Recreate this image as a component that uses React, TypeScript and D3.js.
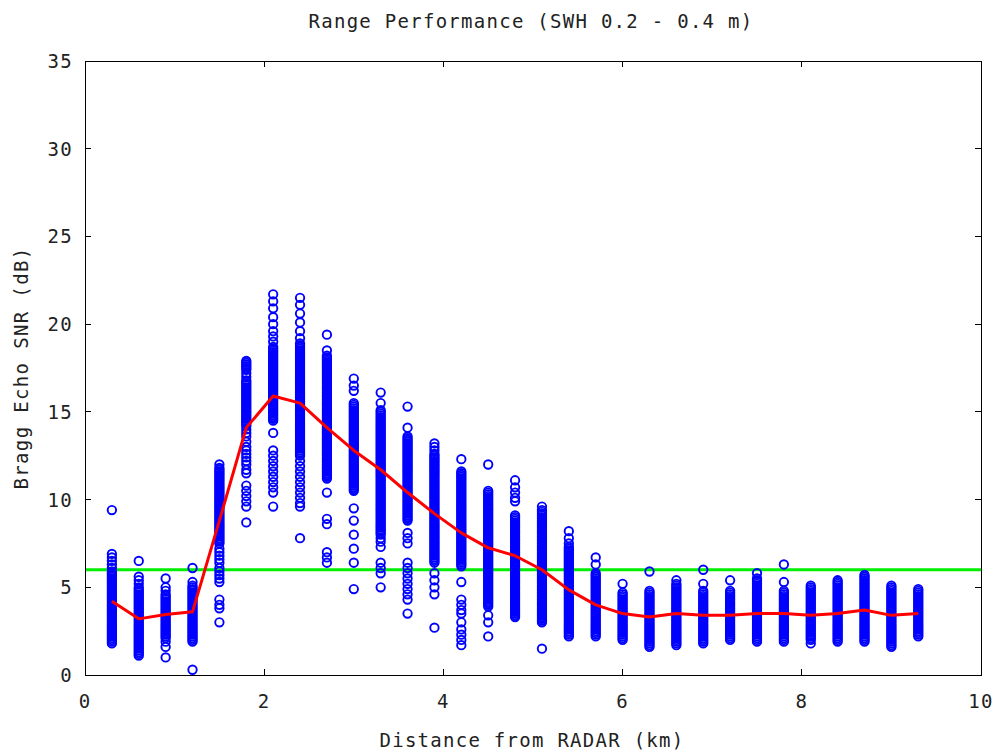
import React from 'react';
import * as d3 from 'd3';

// ---- data ----
const distances = [0.3, 0.6, 0.9, 1.2, 1.5, 1.8, 2.1, 2.4, 2.7, 3.0, 3.3, 3.6, 3.9, 4.2, 4.5, 4.8, 5.1, 5.4, 5.7, 6.0, 6.3, 6.6, 6.9, 7.2, 7.5, 7.8, 8.1, 8.4, 8.7, 9.0, 9.3];

const snr03 = [9.4, 6.9, 6.7, 6.5, 6.3, 6.1, 5.9, 5.8, 5.7, 5.6, 5.5, 5.4, 5.3, 5.2, 5.1, 5.0, 4.9, 4.8, 4.7, 4.6, 4.5, 4.4, 4.3, 4.2, 4.1, 4.0, 3.9, 3.8, 3.7, 3.6, 3.5, 3.4, 3.3, 3.2, 3.1, 3.0, 2.9, 2.8, 2.7, 2.6, 2.5, 2.4, 2.3, 2.2, 2.1, 2.0, 1.9, 1.8];
const snr06 = [6.5, 5.6, 5.4, 5.2, 5.0, 4.9, 4.8, 4.7, 4.6, 4.5, 4.4, 4.3, 4.2, 4.1, 4.0, 3.9, 3.8, 3.7, 3.6, 3.5, 3.4, 3.3, 3.2, 3.1, 3.0, 2.9, 2.8, 2.7, 2.6, 2.5, 2.4, 2.3, 2.2, 2.1, 2.0, 1.9, 1.8, 1.7, 1.6, 1.5, 1.4, 1.3, 1.2, 1.1];
const snr09 = [5.5, 5.0, 4.8, 4.6, 4.5, 4.4, 4.3, 4.2, 4.1, 4.0, 3.9, 3.8, 3.7, 3.6, 3.5, 3.4, 3.3, 3.2, 3.1, 3.0, 2.9, 2.8, 2.7, 2.6, 2.5, 2.4, 2.3, 2.2, 2.1, 1.9, 1.6, 1.0];
const snr12 = [6.1, 5.3, 5.1, 5.0, 4.9, 4.8, 4.7, 4.6, 4.5, 4.4, 4.3, 4.2, 4.1, 4.0, 3.9, 3.8, 3.7, 3.6, 3.5, 3.4, 3.3, 3.2, 3.1, 3.0, 2.9, 2.8, 2.7, 2.6, 2.5, 2.4, 2.3, 2.2, 2.1, 2.0, 1.9, 0.3];
const snr15 = [12.0, 11.8, 11.7, 11.6, 11.5, 11.4, 11.3, 11.2, 11.1, 11.0, 10.9, 10.8, 10.7, 10.6, 10.5, 10.4, 10.3, 10.2, 10.1, 10.0, 9.9, 9.8, 9.7, 9.6, 9.5, 9.4, 9.3, 9.2, 9.1, 9.0, 8.9, 8.8, 8.7, 8.6, 8.5, 8.4, 8.3, 8.2, 8.1, 8.0, 7.9, 7.8, 7.7, 7.6, 7.5, 7.2, 7.0, 6.8, 6.6, 6.4, 6.1, 5.9, 5.7, 5.5, 5.3, 4.3, 4.0, 3.8, 3.0];
const snr18 = [17.9, 17.8, 17.7, 17.6, 17.5, 17.4, 17.2, 17.0, 16.8, 16.7, 16.6, 16.5, 16.4, 16.3, 16.2, 16.1, 16.0, 15.9, 15.8, 15.7, 15.6, 15.5, 15.4, 15.3, 15.2, 15.1, 15.0, 14.9, 14.8, 14.7, 14.6, 14.5, 14.4, 14.3, 14.2, 14.0, 13.8, 13.6, 13.3, 13.0, 12.8, 12.6, 12.4, 12.2, 12.0, 11.7, 11.5, 10.8, 10.5, 10.2, 9.9, 9.6, 8.7];
const snr21 = [21.7, 21.3, 20.9, 20.4, 20.0, 19.6, 19.3, 19.0, 18.7, 18.6, 18.5, 18.4, 18.3, 18.2, 18.1, 18.0, 17.9, 17.8, 17.7, 17.6, 17.5, 17.4, 17.3, 17.2, 17.1, 17.0, 16.9, 16.8, 16.7, 16.6, 16.5, 16.4, 16.3, 16.2, 16.1, 16.0, 15.9, 15.8, 15.7, 15.6, 15.5, 15.4, 15.3, 15.2, 15.1, 15.0, 14.9, 14.8, 14.7, 14.6, 14.5, 13.8, 12.8, 12.5, 12.2, 11.9, 11.6, 11.3, 11.0, 10.7, 10.4, 9.6];
const snr24 = [21.5, 21.1, 20.6, 20.1, 19.6, 19.2, 18.9, 18.8, 18.7, 18.6, 18.5, 18.4, 18.3, 18.2, 18.1, 18.0, 17.9, 17.8, 17.7, 17.6, 17.5, 17.4, 17.3, 17.2, 17.1, 17.0, 16.9, 16.8, 16.7, 16.6, 16.5, 16.4, 16.3, 16.2, 16.1, 16.0, 15.9, 15.8, 15.7, 15.6, 15.5, 15.4, 15.3, 15.2, 15.1, 15.0, 14.9, 14.8, 14.7, 14.6, 14.5, 14.4, 14.3, 14.2, 14.1, 14.0, 13.9, 13.8, 13.7, 13.6, 13.5, 13.4, 13.3, 13.2, 13.1, 13.0, 12.9, 12.8, 12.7, 12.6, 12.5, 12.2, 11.9, 11.6, 11.3, 11.0, 10.7, 10.4, 10.1, 9.8, 9.6, 7.8];
const snr27 = [19.4, 18.5, 18.2, 18.1, 18.0, 17.9, 17.8, 17.7, 17.6, 17.5, 17.4, 17.3, 17.2, 17.1, 17.0, 16.9, 16.8, 16.7, 16.6, 16.5, 16.4, 16.3, 16.2, 16.1, 16.0, 15.9, 15.8, 15.7, 15.6, 15.5, 15.4, 15.3, 15.2, 15.1, 15.0, 14.9, 14.8, 14.7, 14.6, 14.5, 14.4, 14.3, 14.2, 14.1, 14.0, 13.9, 13.8, 13.7, 13.6, 13.5, 13.4, 13.3, 13.2, 13.1, 13.0, 12.9, 12.8, 12.7, 12.6, 12.5, 12.4, 12.3, 12.2, 12.1, 12.0, 11.9, 11.8, 11.7, 11.6, 11.5, 11.4, 11.3, 11.2, 10.4, 8.9, 8.6, 7.0, 6.7, 6.4];
const snr30 = [16.9, 16.5, 16.2, 15.5, 15.4, 15.3, 15.2, 15.1, 15.0, 14.9, 14.8, 14.7, 14.6, 14.5, 14.4, 14.3, 14.2, 14.1, 14.0, 13.9, 13.8, 13.7, 13.6, 13.5, 13.4, 13.3, 13.2, 13.1, 13.0, 12.9, 12.8, 12.7, 12.6, 12.5, 12.4, 12.3, 12.2, 12.1, 12.0, 11.9, 11.8, 11.7, 11.6, 11.5, 11.4, 11.3, 11.2, 11.1, 11.0, 10.9, 10.8, 10.7, 10.6, 10.5, 9.5, 8.8, 8.0, 7.2, 6.4, 4.9];
const snr33 = [16.1, 15.5, 15.1, 15.0, 14.9, 14.8, 14.7, 14.6, 14.5, 14.4, 14.3, 14.2, 14.1, 14.0, 13.9, 13.8, 13.7, 13.6, 13.5, 13.4, 13.3, 13.2, 13.1, 13.0, 12.9, 12.8, 12.7, 12.6, 12.5, 12.4, 12.3, 12.2, 12.1, 12.0, 11.9, 11.8, 11.7, 11.6, 11.5, 11.4, 11.3, 11.2, 11.1, 11.0, 10.9, 10.8, 10.7, 10.6, 10.5, 10.4, 10.3, 10.2, 10.1, 10.0, 9.9, 9.8, 9.7, 9.6, 9.5, 9.4, 9.3, 9.2, 9.1, 9.0, 8.9, 8.8, 8.7, 8.6, 8.5, 8.4, 8.3, 8.2, 8.1, 8.0, 7.8, 7.6, 7.3, 6.4, 6.1, 5.8, 5.0];
const snr36 = [15.3, 14.1, 13.6, 13.5, 13.4, 13.3, 13.2, 13.1, 13.0, 12.9, 12.8, 12.7, 12.6, 12.5, 12.4, 12.3, 12.2, 12.1, 12.0, 11.9, 11.8, 11.7, 11.6, 11.5, 11.4, 11.3, 11.2, 11.1, 11.0, 10.9, 10.8, 10.7, 10.6, 10.5, 10.4, 10.3, 10.2, 10.1, 10.0, 9.9, 9.8, 9.7, 9.6, 9.5, 9.4, 9.3, 9.2, 9.1, 9.0, 8.9, 8.8, 8.1, 7.8, 7.5, 6.4, 6.1, 5.8, 5.5, 5.2, 4.9, 4.6, 4.3, 3.5];
const snr39 = [13.2, 13.0, 12.8, 12.6, 12.5, 12.4, 12.3, 12.2, 12.1, 12.0, 11.9, 11.8, 11.7, 11.6, 11.5, 11.4, 11.3, 11.2, 11.1, 11.0, 10.9, 10.8, 10.7, 10.6, 10.5, 10.4, 10.3, 10.2, 10.1, 10.0, 9.9, 9.8, 9.7, 9.6, 9.5, 9.4, 9.3, 9.2, 9.1, 9.0, 8.9, 8.8, 8.7, 8.6, 8.5, 8.4, 8.3, 8.2, 8.1, 8.0, 7.9, 7.8, 7.7, 7.6, 7.5, 7.4, 7.3, 7.2, 7.1, 7.0, 6.9, 6.8, 6.7, 6.6, 6.5, 6.4, 5.8, 5.4, 5.0, 4.6, 2.7];
const snr42 = [12.3, 11.6, 11.5, 11.4, 11.3, 11.2, 11.1, 11.0, 10.9, 10.8, 10.7, 10.6, 10.5, 10.4, 10.3, 10.2, 10.1, 10.0, 9.9, 9.8, 9.7, 9.6, 9.5, 9.4, 9.3, 9.2, 9.1, 9.0, 8.9, 8.8, 8.7, 8.6, 8.5, 8.4, 8.3, 8.2, 8.1, 8.0, 7.9, 7.8, 7.7, 7.6, 7.5, 7.4, 7.3, 7.2, 7.1, 7.0, 6.9, 6.8, 6.7, 6.6, 6.5, 6.4, 6.3, 6.2, 5.3, 4.3, 4.0, 3.7, 3.5, 3.0, 2.6, 2.3, 2.0, 1.7];
const snr45 = [12.0, 10.5, 10.4, 10.3, 10.2, 10.1, 10.0, 9.9, 9.8, 9.7, 9.6, 9.5, 9.4, 9.3, 9.2, 9.1, 9.0, 8.9, 8.8, 8.7, 8.6, 8.5, 8.4, 8.3, 8.2, 8.1, 8.0, 7.9, 7.8, 7.7, 7.6, 7.5, 7.4, 7.3, 7.2, 7.1, 7.0, 6.9, 6.8, 6.7, 6.6, 6.5, 6.4, 6.3, 6.2, 6.1, 6.0, 5.9, 5.8, 5.7, 5.6, 5.5, 5.4, 5.3, 5.2, 5.1, 5.0, 4.9, 4.8, 4.7, 4.6, 4.5, 4.4, 4.3, 4.2, 4.1, 4.0, 3.9, 3.4, 3.0, 2.2];
const snr48 = [11.1, 10.7, 10.4, 10.1, 9.9, 9.1, 9.0, 8.9, 8.8, 8.7, 8.6, 8.5, 8.4, 8.3, 8.2, 8.1, 8.0, 7.9, 7.8, 7.7, 7.6, 7.5, 7.4, 7.3, 7.2, 7.1, 7.0, 6.9, 6.8, 6.7, 6.6, 6.5, 6.4, 6.3, 6.2, 6.1, 6.0, 5.9, 5.8, 5.7, 5.6, 5.5, 5.4, 5.3, 5.2, 5.1, 5.0, 4.9, 4.8, 4.7, 4.6, 4.5, 4.4, 4.3, 4.2, 4.1, 4.0, 3.9, 3.8, 3.7, 3.6, 3.5, 3.4, 3.3];
const snr51 = [9.6, 9.4, 9.3, 9.2, 9.1, 9.0, 8.9, 8.8, 8.7, 8.6, 8.5, 8.4, 8.3, 8.2, 8.1, 8.0, 7.9, 7.8, 7.7, 7.6, 7.5, 7.4, 7.3, 7.2, 7.1, 7.0, 6.9, 6.8, 6.7, 6.6, 6.5, 6.4, 6.3, 6.2, 6.1, 6.0, 5.9, 5.8, 5.7, 5.6, 5.5, 5.4, 5.3, 5.2, 5.1, 5.0, 4.9, 4.8, 4.7, 4.6, 4.5, 4.4, 4.3, 4.2, 4.1, 4.0, 3.9, 3.8, 3.7, 3.6, 3.5, 3.4, 3.3, 3.2, 3.1, 3.0, 1.5];
const snr54 = [8.2, 7.8, 7.5, 7.3, 7.2, 7.1, 7.0, 6.9, 6.8, 6.7, 6.6, 6.5, 6.4, 6.3, 6.2, 6.1, 6.0, 5.9, 5.8, 5.7, 5.6, 5.5, 5.4, 5.3, 5.2, 5.1, 5.0, 4.9, 4.8, 4.7, 4.6, 4.5, 4.4, 4.3, 4.2, 4.1, 4.0, 3.9, 3.8, 3.7, 3.6, 3.5, 3.4, 3.3, 3.2, 3.1, 3.0, 2.9, 2.8, 2.7, 2.6, 2.5, 2.4, 2.3, 2.2];
const snr57 = [6.7, 6.3, 5.8, 5.7, 5.6, 5.5, 5.4, 5.3, 5.2, 5.1, 5.0, 4.9, 4.8, 4.7, 4.6, 4.5, 4.4, 4.3, 4.2, 4.1, 4.0, 3.9, 3.8, 3.7, 3.6, 3.5, 3.4, 3.3, 3.2, 3.1, 3.0, 2.9, 2.8, 2.7, 2.6, 2.5, 2.4, 2.3, 2.2];
const snr60 = [5.2, 4.7, 4.6, 4.5, 4.4, 4.3, 4.2, 4.1, 4.0, 3.9, 3.8, 3.7, 3.6, 3.5, 3.4, 3.3, 3.2, 3.1, 3.0, 2.9, 2.8, 2.7, 2.6, 2.5, 2.4, 2.3, 2.2, 2.1, 2.0];
const snr63 = [5.9, 4.8, 4.7, 4.6, 4.5, 4.4, 4.3, 4.2, 4.1, 4.0, 3.9, 3.8, 3.7, 3.6, 3.5, 3.4, 3.3, 3.2, 3.1, 3.0, 2.9, 2.8, 2.7, 2.6, 2.5, 2.4, 2.3, 2.2, 2.1, 2.0, 1.9, 1.8, 1.7, 1.6];
const snr66 = [5.4, 5.2, 5.1, 5.0, 4.9, 4.8, 4.7, 4.6, 4.5, 4.4, 4.3, 4.2, 4.1, 4.0, 3.9, 3.8, 3.7, 3.6, 3.5, 3.4, 3.3, 3.2, 3.1, 3.0, 2.9, 2.8, 2.7, 2.6, 2.5, 2.4, 2.3, 2.2, 2.1, 2.0, 1.9, 1.8, 1.7];
const snr69 = [6.0, 5.2, 4.8, 4.7, 4.6, 4.5, 4.4, 4.3, 4.2, 4.1, 4.0, 3.9, 3.8, 3.7, 3.6, 3.5, 3.4, 3.3, 3.2, 3.1, 3.0, 2.9, 2.8, 2.7, 2.6, 2.5, 2.4, 2.3, 2.2, 2.1, 2.0, 1.9, 1.8];
const snr72 = [5.4, 4.8, 4.7, 4.6, 4.5, 4.4, 4.3, 4.2, 4.1, 4.0, 3.9, 3.8, 3.7, 3.6, 3.5, 3.4, 3.3, 3.2, 3.1, 3.0, 2.9, 2.8, 2.7, 2.6, 2.5, 2.4, 2.3, 2.2, 2.1, 2.0];
const snr75 = [5.8, 5.5, 5.4, 5.3, 5.2, 5.1, 5.0, 4.9, 4.8, 4.7, 4.6, 4.5, 4.4, 4.3, 4.2, 4.1, 4.0, 3.9, 3.8, 3.7, 3.6, 3.5, 3.4, 3.3, 3.2, 3.1, 3.0, 2.9, 2.8, 2.7, 2.6, 2.5, 2.4, 2.3, 2.2, 2.1, 2.0, 1.9];
const snr78 = [6.3, 5.3, 4.8, 4.7, 4.6, 4.5, 4.4, 4.3, 4.2, 4.1, 4.0, 3.9, 3.8, 3.7, 3.6, 3.5, 3.4, 3.3, 3.2, 3.1, 3.0, 2.9, 2.8, 2.7, 2.6, 2.5, 2.4, 2.3, 2.2, 2.1, 2.0, 1.9];
const snr81 = [5.1, 5.0, 4.9, 4.8, 4.7, 4.6, 4.5, 4.4, 4.3, 4.2, 4.1, 4.0, 3.9, 3.8, 3.7, 3.6, 3.5, 3.4, 3.3, 3.2, 3.1, 3.0, 2.9, 2.8, 2.7, 2.6, 2.5, 2.4, 2.3, 2.2, 2.1, 2.0, 1.8];
const snr84 = [5.4, 5.3, 5.2, 5.1, 5.0, 4.9, 4.8, 4.7, 4.6, 4.5, 4.4, 4.3, 4.2, 4.1, 4.0, 3.9, 3.8, 3.7, 3.6, 3.5, 3.4, 3.3, 3.2, 3.1, 3.0, 2.9, 2.8, 2.7, 2.6, 2.5, 2.4, 2.3, 2.2, 2.1, 2.0, 1.9];
const snr87 = [5.7, 5.6, 5.5, 5.4, 5.3, 5.2, 5.1, 5.0, 4.9, 4.8, 4.7, 4.6, 4.5, 4.4, 4.3, 4.2, 4.1, 4.0, 3.9, 3.8, 3.7, 3.6, 3.5, 3.4, 3.3, 3.2, 3.1, 3.0, 2.9, 2.8, 2.7, 2.6, 2.5, 2.4, 2.3, 2.2, 2.1, 2.0, 1.9];
const snr90 = [5.1, 5.0, 4.9, 4.8, 4.7, 4.6, 4.5, 4.4, 4.3, 4.2, 4.1, 4.0, 3.9, 3.8, 3.7, 3.6, 3.5, 3.4, 3.3, 3.2, 3.1, 3.0, 2.9, 2.8, 2.7, 2.6, 2.5, 2.4, 2.3, 2.2, 2.1, 2.0, 1.9, 1.8, 1.7, 1.6];
const snr93 = [4.9, 4.8, 4.7, 4.6, 4.5, 4.4, 4.3, 4.2, 4.1, 4.0, 3.9, 3.8, 3.7, 3.6, 3.5, 3.4, 3.3, 3.2, 3.1, 3.0, 2.9, 2.8, 2.7, 2.6, 2.5, 2.4, 2.3, 2.2];

const meanDistances = [0.3, 0.6, 0.9, 1.2, 1.5, 1.8, 2.1, 2.4, 2.7, 3.0, 3.3, 3.6, 3.9, 4.2, 4.5, 4.8, 5.1, 5.4, 5.7, 6.0, 6.3, 6.6, 6.9, 7.2, 7.5, 7.8, 8.1, 8.4, 8.7, 9.0, 9.3];
const meanSnr = [4.2, 3.2, 3.45, 3.6, 8.8, 14.1, 15.9, 15.5, 14.1, 12.8, 11.7, 10.4, 9.2, 8.1, 7.25, 6.8, 6.0, 4.85, 4.0, 3.5, 3.3, 3.5, 3.4, 3.4, 3.5, 3.5, 3.4, 3.5, 3.7, 3.4, 3.5];

const thresholdDb = 6;
const xTicks = [0, 2, 4, 6, 8, 10];
const yTicks = [0, 5, 10, 15, 20, 25, 30, 35];
const titleText = 'Range Performance (SWH 0.2 - 0.4 m)';
const xLabel = 'Distance from RADAR (km)';
const yLabel = 'Bragg Echo SNR (dB)';

const columns = [snr03, snr06, snr09, snr12, snr15, snr18, snr21, snr24, snr27, snr30, snr33, snr36, snr39, snr42, snr45, snr48, snr51, snr54, snr57, snr60, snr63, snr66, snr69, snr72, snr75, snr78, snr81, snr84, snr87, snr90, snr93];

const W = 995;
const H = 751;
const L = 85, R = 981, T = 61, B = 675;
const FONT = "'DejaVu Sans Mono', monospace";

export default function App() {
  const x = d3.scaleLinear().domain([0, 10]).range([L, R]);
  const y = d3.scaleLinear().domain([0, 35]).range([B, T]);

  const points = columns.flatMap((vals, i) => vals.map((v) => ({ d: distances[i], v })));
  const meanData = meanDistances.map((d, i) => ({ d, v: meanSnr[i] }));
  const meanLine = d3.line<{ d: number; v: number }>().x((p) => x(p.d)).y((p) => y(p.v))(meanData) || '';

  const tickLen = 6;
  const textStyle = { fontFamily: FONT, fontSize: 19, fill: '#222', letterSpacing: '1.3px' } as React.CSSProperties;

  return (
    <svg width={W} height={H} style={{ position: 'absolute', left: 0, top: 0, background: '#fff' }}>
      <rect x={0} y={0} width={W} height={H} fill="#fff" />
      {/* title */}
      <text x={531} y={28} textAnchor="middle" style={textStyle} textLength={445} lengthAdjust="spacing">{titleText}</text>

      {/* threshold */}
      <line x1={L} x2={R} y1={y(thresholdDb)} y2={y(thresholdDb)} stroke="#00ee00" strokeWidth={3} />

      {/* points */}
      <g fill="none" stroke="#0000ff" strokeWidth={1.9}>
        {points.map((p, i) => (
          <circle key={i} cx={x(p.d)} cy={y(p.v)} r={4.2} />
        ))}
      </g>

      {/* mean line */}
      <path d={meanLine} fill="none" stroke="#ff0000" strokeWidth={3} strokeLinejoin="round" />

      {/* border */}
      <rect x={L} y={T} width={R - L} height={B - T} fill="none" stroke="#000" strokeWidth={1} shapeRendering="crispEdges" />

      {/* ticks */}
      <g stroke="#000" strokeWidth={1} shapeRendering="crispEdges">
        {xTicks.map((t) => (
          <g key={'x' + t}>
            <line x1={x(t)} x2={x(t)} y1={B} y2={B - tickLen} />
            <line x1={x(t)} x2={x(t)} y1={T} y2={T + tickLen} />
          </g>
        ))}
        {yTicks.map((t) => (
          <g key={'y' + t}>
            <line x1={L} x2={L + tickLen} y1={y(t)} y2={y(t)} />
            <line x1={R} x2={R - tickLen} y1={y(t)} y2={y(t)} />
          </g>
        ))}
      </g>

      {/* tick labels */}
      {xTicks.map((t) => (
        <text key={'xl' + t} x={x(t)} y={708} textAnchor="middle" style={textStyle}>{t}</text>
      ))}
      {yTicks.map((t) => (
        <text key={'yl' + t} x={73} y={y(t) + 7} textAnchor="end" style={textStyle}>{t}</text>
      ))}

      {/* axis labels */}
      <text x={532} y={747} textAnchor="middle" style={textStyle} textLength={305} lengthAdjust="spacing">{xLabel}</text>
      <text transform={`translate(28,${368}) rotate(-90)`} textAnchor="middle" style={textStyle} textLength={243} lengthAdjust="spacing">{yLabel}</text>
    </svg>
  );
}
